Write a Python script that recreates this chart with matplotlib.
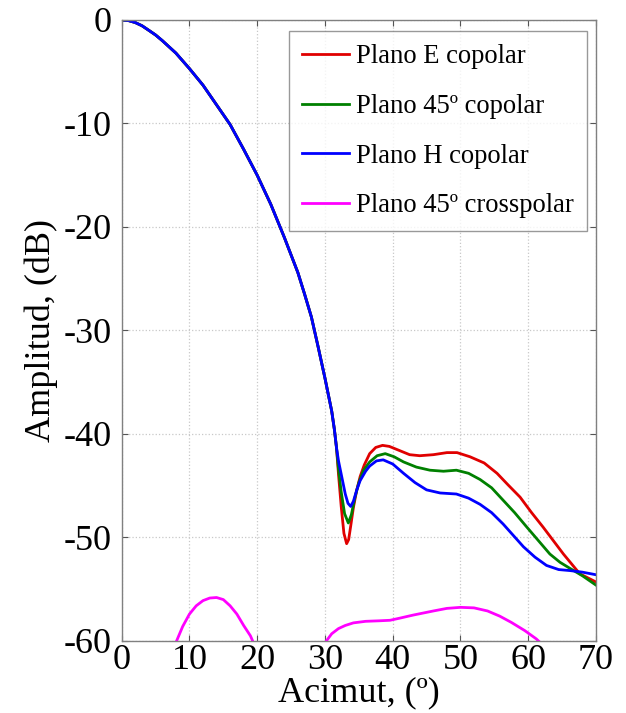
import matplotlib
matplotlib.use("Agg")
import matplotlib.pyplot as plt
import numpy as np

plt.rcParams['font.family'] = ['Liberation Serif', 'DejaVu Serif']
plt.rcParams['axes.unicode_minus'] = False

# Shared main lobe (all copolar cuts coincide)
main_x = [0, 1, 2, 3, 4, 5, 6, 7, 8, 9, 10, 11, 12, 13, 14, 15, 16, 17, 18, 19, 20,
          21, 22, 23, 24, 25, 26, 27, 28, 29, 30, 30.5, 31, 31.4, 31.7]
main_y = [0, -0.06, -0.25, -0.56, -1.0, -1.45, -2.0, -2.6, -3.2, -3.95, -4.7, -5.5,
          -6.3, -7.25, -8.2, -9.15, -10.1, -11.3, -12.5, -13.75, -15.0, -16.4, -17.8,
          -19.4, -21.0, -22.7, -24.4, -26.5, -28.7, -31.6, -34.6, -36.2, -37.8, -39.6, -41.3]

e_x = [32.0, 32.4, 32.8, 33.2, 33.5, 33.8, 34.2, 34.7, 35.2, 35.8, 36.6, 37.5, 38.5, 39.5,
       41, 42.5, 44, 46, 48, 49.5, 51.4, 53.5, 55.4, 57, 58.8, 60.5, 62.2, 63.7, 65.2,
       67.6, 70]
e_y = [-43.9, -47.0, -49.6, -50.6, -50.2, -48.9, -47.1, -45.4, -44.1, -43.0, -41.9, -41.3,
       -41.1, -41.2, -41.6, -42.0, -42.1, -42.0, -41.8, -41.8, -42.2, -42.8, -43.8, -44.9,
       -46.1, -47.6, -49.0, -50.3, -51.6, -53.5, -54.3]

d45_x = [32.0, 32.4, 32.9, 33.45, 33.9, 34.4, 35.0, 35.7, 36.6, 37.7, 38.9, 40.2, 41.6,
         43.5, 45.5, 47.5, 49.4, 51.2, 52.9, 54.6, 56.3, 58, 59.8, 61.5, 63.2, 64.7, 66.2,
         68, 70]
d45_y = [-43.4, -45.6, -47.7, -48.6, -47.8, -46.2, -44.7, -43.5, -42.7, -42.1, -41.9,
         -42.2, -42.7, -43.2, -43.5, -43.6, -43.5, -43.8, -44.4, -45.2, -46.4, -47.6,
         -49.0, -50.3, -51.6, -52.4, -53.0, -53.7, -54.6]

h_x = [32.0, 32.5, 33.0, 33.4, 33.8, 34.2, 34.7, 35.2, 36.0, 36.6, 37.6, 38.6, 40.0, 41.6,
       43.3, 45.0, 47.0, 49.4, 51.2, 52.9, 54.6, 56.3, 57.8, 59.3, 61.0, 62.7, 64.5, 66.2,
       68, 70]
h_y = [-42.6, -44.2, -45.8, -46.7, -47.0, -46.5, -45.4, -44.5, -43.6, -43.1, -42.6, -42.5,
       -42.9, -43.8, -44.7, -45.4, -45.7, -45.8, -46.2, -46.8, -47.6, -48.7, -49.8, -50.9,
       -51.9, -52.7, -53.1, -53.2, -53.35, -53.6]

xp1_x = [7.5, 8.1, 9, 10, 11, 12, 13, 14, 15, 16, 17, 18, 19, 19.6]
xp1_y = [-61.0, -60.0, -58.6, -57.4, -56.6, -56.1, -55.85, -55.8, -56.0, -56.6, -57.4,
         -58.5, -59.5, -60.4]
xp2_x = [29.8, 30.2, 31, 32, 33, 34.2, 36, 38, 39.6, 41, 43, 46, 48, 50, 52, 54, 55.8,
         57.5, 59.5, 61.2, 62]
xp2_y = [-60.5, -60.0, -59.3, -58.8, -58.5, -58.25, -58.1, -58.05, -58.0, -57.8, -57.5,
         -57.1, -56.85, -56.75, -56.8, -57.1, -57.6, -58.2, -59.0, -59.8, -60.3]

labels = ["Plano E copolar", "Plano 45º copolar", "Plano H copolar", "Plano 45º crosspolar"]
colors = ["#e00000", "#008000", "#0000ff", "#ff00ff"]
xticks = [0, 10, 20, 30, 40, 50, 60, 70]
yticks = [0, -10, -20, -30, -40, -50, -60]

fig = plt.figure(figsize=(6.26, 7.13), dpi=100)
ax = fig.add_axes([0.1944, 0.101, 0.7576, 0.871])

lw = 2.0
series = [(e_x, e_y), (d45_x, d45_y), (h_x, h_y)]
for (sx, sy), c, lab in zip(series, colors[:3], labels[:3]):
    ax.plot(main_x + sx, main_y + sy, color=c, lw=lw, label=lab,
            solid_joinstyle='round')
ax.plot(xp1_x, xp1_y, color=colors[3], lw=lw, label=labels[3])
ax.plot(xp2_x, xp2_y, color=colors[3], lw=lw)

ax.set_xlim(0, 70)
ax.set_ylim(-60, 0)
ax.set_xticks(xticks)
ax.set_yticks(yticks)
ax.tick_params(direction='in', length=4, width=0.8, color='#555555',
               top=True, right=True, labelsize=26)
ax.tick_params(axis='x', pad=2)
ax.tick_params(axis='y', pad=7)
ax.grid(True, color='#c8c8c8', linestyle=':', linewidth=0.9)
for s in ax.spines.values():
    s.set_color('#808080')
    s.set_linewidth(1.0)

ax.set_xlabel("Acimut, (º)", fontsize=26, labelpad=0)
ax.set_ylabel("Amplitud, (dB)", fontsize=26, labelpad=4)

leg = ax.legend(loc='upper right', fontsize=19.2, frameon=True, fancybox=False,
                edgecolor='#808080', handlelength=1.75, handletextpad=0.27,
                labelspacing=0.92, borderpad=0.5, borderaxespad=0,
                bbox_to_anchor=(0.981, 0.982))
leg.get_frame().set_linewidth(1.0)

fig.savefig("out.png", dpi=100)
